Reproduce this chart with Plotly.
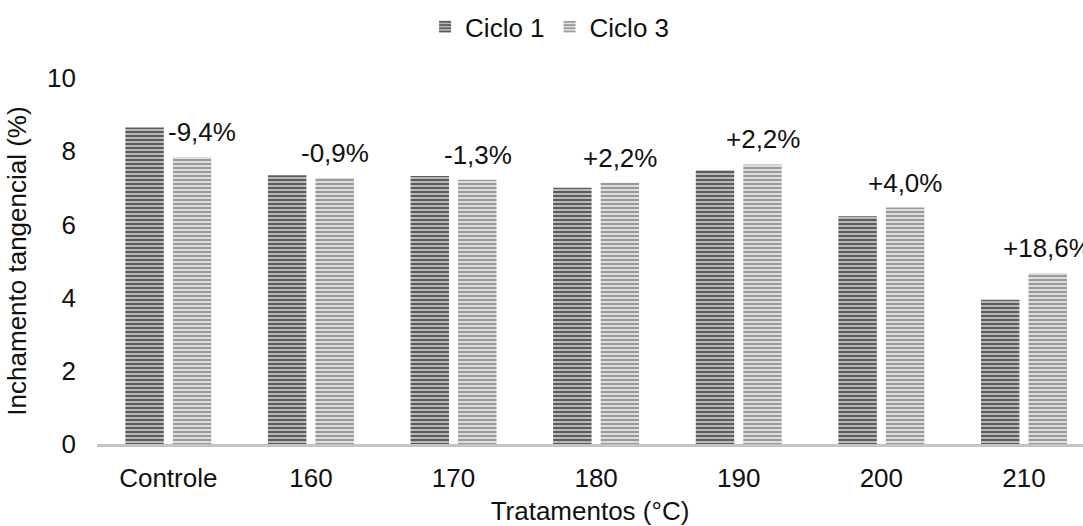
import plotly.graph_objects as go

categories = ["Controle", "160", "170", "180", "190", "200", "210"]
ciclo1 = [8.65, 7.34, 7.32, 7.00, 7.48, 6.22, 3.94]
ciclo3 = [7.84, 7.27, 7.22, 7.14, 7.64, 6.46, 4.67]
variation_labels = ["-9,4%", "-0,9%", "-1,3%", "+2,2%", "+2,2%", "+4,0%", "+18,6%"]

FONT = "Liberation Sans, Arial, sans-serif"
FS = 26

fig = go.Figure()
fig.add_trace(go.Bar(
    x=categories, y=ciclo1, name="Ciclo 1",
    marker=dict(color="#b8b8b8", line=dict(width=0),
                pattern=dict(shape="-", fgcolor="#5c5c5c", bgcolor="#b8b8b8",
                             size=4, solidity=0.5, fillmode="replace")),
))
fig.add_trace(go.Bar(
    x=categories, y=ciclo3, name="Ciclo 3",
    marker=dict(color="#dadada", line=dict(width=0),
                pattern=dict(shape="-", fgcolor="#9a9a9a", bgcolor="#dcdcdc",
                             size=4, solidity=0.5, fillmode="replace")),
))

for i, (val, txt) in enumerate(zip(ciclo3, variation_labels)):
    fig.add_annotation(
        x=i, y=val, text=txt, showarrow=False,
        xref="x", yref="y", xanchor="center", yanchor="middle",
        xshift=24 + (10 if i == 0 else 0), yshift=25,
        font=dict(family=FONT, size=FS, color="#111111"),
    )

fig.update_layout(
    width=1083, height=526,
    margin=dict(l=97, r=0, t=78, b=82, autoexpand=False),
    paper_bgcolor="white", plot_bgcolor="white",
    barmode="group", bargap=0.334, bargroupgap=0.19,
    font=dict(family=FONT, size=FS, color="#111111"),
    showlegend=True,
    legend=dict(orientation="h", x=0.459, xanchor="center", y=1.14, yanchor="middle",
                font=dict(family=FONT, size=FS, color="#111111"),
                itemwidth=30, tracegroupgap=0, bgcolor="rgba(0,0,0,0)"),
    xaxis=dict(
        type="category", range=[-0.5, 6.414],
        showline=True, linecolor="#c4c4c4", linewidth=3,
        showgrid=False, zeroline=False, ticks="",
        ticklabelstandoff=9,
        tickfont=dict(family=FONT, size=FS, color="#111111"),
        title=dict(text="Tratamentos (°C)", standoff=15,
                   font=dict(family=FONT, size=FS, color="#111111")),
        automargin=False,
    ),
    yaxis=dict(
        range=[0, 10], tickvals=[0, 2, 4, 6, 8, 10],
        showline=False, showgrid=False, zeroline=False, ticks="",
        ticklabelstandoff=20,
        tickfont=dict(family=FONT, size=FS, color="#111111"),
        title=dict(text="Inchamento tangencial (%)", standoff=12,
                   font=dict(family=FONT, size=FS, color="#111111")),
        automargin=False,
    ),
)

fig.write_html("out.html")
